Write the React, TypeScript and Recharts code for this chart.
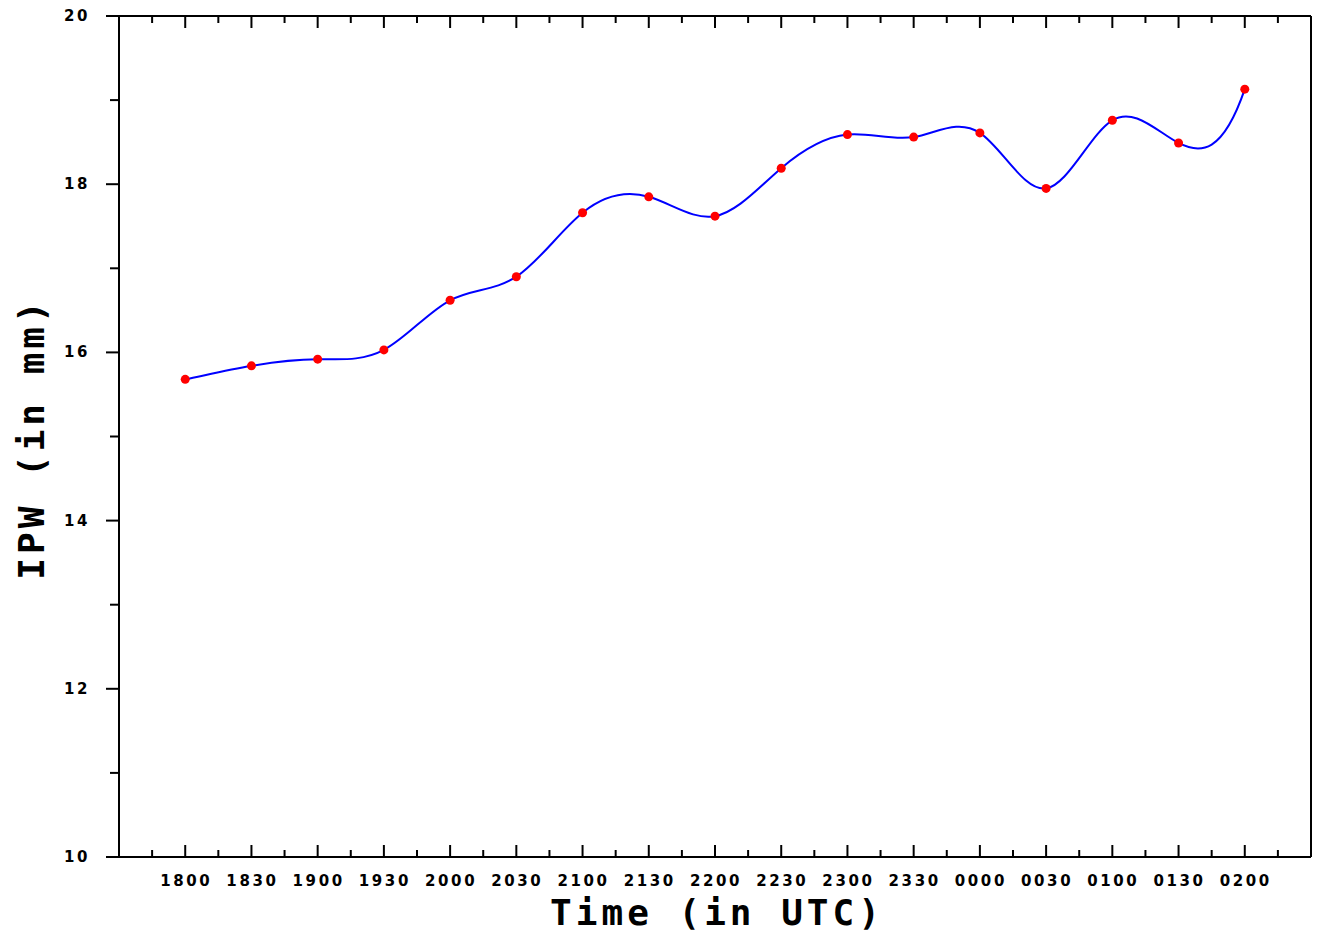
import React from "react";
import { LineChart, Line, XAxis, YAxis, Label } from "recharts";

const times = ["1800", "1830", "1900", "1930", "2000", "2030", "2100", "2130", "2200", "2230", "2300", "2330", "0000", "0030", "0100", "0130", "0200"];
const ipw = [15.68, 15.84, 15.92, 16.03, 16.62, 16.9, 17.66, 17.85, 17.62, 18.19, 18.59, 18.56, 18.61, 17.95, 18.76, 18.49, 19.13];
const yTicks = [10, 11, 12, 13, 14, 15, 16, 17, 18, 19, 20];
const xTicks = times.flatMap((_, i) => (i === 0 ? [i - 0.5, i, i + 0.5] : [i, i + 0.5]));

const data = times.map((time, i) => ({ idx: i, time, ipw: ipw[i] }));

const tickFont = { fontFamily: "'DejaVu Sans'", fontWeight: "bold", fontSize: 15, letterSpacing: 2.6 };
const titleFont = { fontFamily: "'DejaVu Sans Mono'", fontWeight: "bold", fontSize: 36, letterSpacing: 4 };

// cubic spline with not-a-knot ends, used as a d3-style curve factory
const notAKnot = (context: any) => {
  let xs: number[] = [];
  let ys: number[] = [];
  return {
    areaStart() {},
    areaEnd() {},
    lineStart() {
      xs = [];
      ys = [];
    },
    point(x: number, y: number) {
      xs.push(+x);
      ys.push(+y);
    },
    lineEnd() {
      const n = xs.length;
      if (!n) return;
      context.moveTo(xs[0], ys[0]);
      if (n < 4) {
        for (let i = 1; i < n; i++) context.lineTo(xs[i], ys[i]);
        return;
      }
      const h: number[] = [];
      for (let i = 0; i < n - 1; i++) h.push(xs[i + 1] - xs[i]);
      const A: number[][] = Array.from({ length: n }, () => new Array(n).fill(0));
      const b: number[] = new Array(n).fill(0);
      A[0][0] = h[1];
      A[0][1] = -(h[0] + h[1]);
      A[0][2] = h[0];
      for (let i = 1; i < n - 1; i++) {
        A[i][i - 1] = h[i - 1];
        A[i][i] = 2 * (h[i - 1] + h[i]);
        A[i][i + 1] = h[i];
        b[i] = 6 * ((ys[i + 1] - ys[i]) / h[i] - (ys[i] - ys[i - 1]) / h[i - 1]);
      }
      A[n - 1][n - 3] = h[n - 2];
      A[n - 1][n - 2] = -(h[n - 3] + h[n - 2]);
      A[n - 1][n - 1] = h[n - 3];
      // gaussian elimination
      for (let c = 0; c < n; c++) {
        let p = c;
        for (let r = c + 1; r < n; r++) if (Math.abs(A[r][c]) > Math.abs(A[p][c])) p = r;
        [A[c], A[p]] = [A[p], A[c]];
        [b[c], b[p]] = [b[p], b[c]];
        for (let r = c + 1; r < n; r++) {
          const f = A[r][c] / A[c][c];
          if (!f) continue;
          for (let k = c; k < n; k++) A[r][k] -= f * A[c][k];
          b[r] -= f * b[c];
        }
      }
      const M: number[] = new Array(n).fill(0);
      for (let r = n - 1; r >= 0; r--) {
        let s = b[r];
        for (let k = r + 1; k < n; k++) s -= A[r][k] * M[k];
        M[r] = s / A[r][r];
      }
      for (let i = 0; i < n - 1; i++) {
        const hi = h[i];
        const sl = (ys[i + 1] - ys[i]) / hi;
        const d0 = sl - (hi * (2 * M[i] + M[i + 1])) / 6;
        const d1 = sl + (hi * (M[i] + 2 * M[i + 1])) / 6;
        context.bezierCurveTo(
          xs[i] + hi / 3,
          ys[i] + (d0 * hi) / 3,
          xs[i + 1] - hi / 3,
          ys[i + 1] - (d1 * hi) / 3,
          xs[i + 1],
          ys[i + 1]
        );
      }
    },
  };
};

const BottomTick = ({ x, y, payload }: any) => {
  const v = payload.value;
  const major = Number.isInteger(v);
  return (
    <g>
      <line x1={x} x2={x} y1={y} y2={y - (major ? 12 : 7)} stroke="#000" strokeWidth={2} />
      {major && (
        <text x={x + 1} y={y + 24} textAnchor="middle" dominantBaseline="central" fill="#000" style={tickFont}>
          {times[v]}
        </text>
      )}
    </g>
  );
};

const TopTick = ({ x, y, payload }: any) => {
  const major = Number.isInteger(payload.value);
  return <line x1={x} x2={x} y1={y} y2={y + (major ? 12 : 7)} stroke="#000" strokeWidth={2} />;
};

const LeftTick = ({ x, y, payload }: any) => {
  const v = payload.value;
  const major = v % 2 === 0;
  return (
    <g>
      <line x1={x} x2={x - (major ? 13 : 9)} y1={y} y2={y} stroke="#000" strokeWidth={2} />
      {major && (
        <text x={x - 29} y={y} textAnchor="end" dominantBaseline="central" fill="#000" style={tickFont}>
          {v}
        </text>
      )}
    </g>
  );
};

const RightTick = ({ x, y, payload }: any) => {
  const major = payload.value % 2 === 0;
  return <line x1={x} x2={x + (major ? 13 : 9)} y1={y} y2={y} stroke="#000" strokeWidth={2} />;
};

export default function App() {
  return (
    <div style={{ position: "absolute", left: 0, top: 0, background: "#fff" }}>
      <LineChart width={1328} height={933} data={data} margin={{ top: 15, right: 16, left: 0, bottom: 0 }}>
        <XAxis
          dataKey="idx"
          type="number"
          domain={[-1, 17]}
          ticks={xTicks}
          interval={0}
          height={76}
          tickSize={0}
          tickMargin={0}
          tickLine={false}
          tick={BottomTick}
          axisLine={{ stroke: "#000", strokeWidth: 2 }}
        >
          <Label
            content={({ viewBox }: any) => (
              <text
                x={viewBox.x + viewBox.width / 2 + 2}
                y={viewBox.y + 68}
                textAnchor="middle"
                fill="#000"
                style={titleFont}
              >
                Time (in UTC)
              </text>
            )}
          />
        </XAxis>
        <XAxis
          xAxisId="top"
          orientation="top"
          dataKey="idx"
          type="number"
          domain={[-1, 17]}
          ticks={xTicks}
          interval={0}
          height={1}
          tickSize={0}
          tickMargin={0}
          tickLine={false}
          tick={TopTick}
          axisLine={{ stroke: "#000", strokeWidth: 2 }}
        />
        <YAxis
          domain={[10, 20]}
          ticks={yTicks}
          interval={0}
          width={119}
          tickSize={0}
          tickMargin={0}
          tickLine={false}
          tick={LeftTick}
          axisLine={{ stroke: "#000", strokeWidth: 2 }}
        >
          <Label
            content={({ viewBox }: any) => {
              const cx = 44;
              const cy = viewBox.y + viewBox.height / 2 + 2;
              return (
                <text
                  x={cx}
                  y={cy}
                  transform={`rotate(-90 ${cx} ${cy})`}
                  textAnchor="middle"
                  fill="#000"
                  style={titleFont}
                >
                  IPW (in mm)
                </text>
              );
            }}
          />
        </YAxis>
        <YAxis
          yAxisId="right"
          orientation="right"
          domain={[10, 20]}
          ticks={yTicks}
          interval={0}
          width={1}
          tickSize={0}
          tickMargin={0}
          tickLine={false}
          tick={RightTick}
          axisLine={{ stroke: "#000", strokeWidth: 2 }}
        />
        <Line
          dataKey="ipw"
          type={notAKnot as any}
          stroke="#0000ff"
          strokeWidth={2}
          dot={{ r: 4.5, fill: "#ff0000", stroke: "none" }}
          activeDot={false}
          isAnimationActive={false}
        />
      </LineChart>
    </div>
  );
}
